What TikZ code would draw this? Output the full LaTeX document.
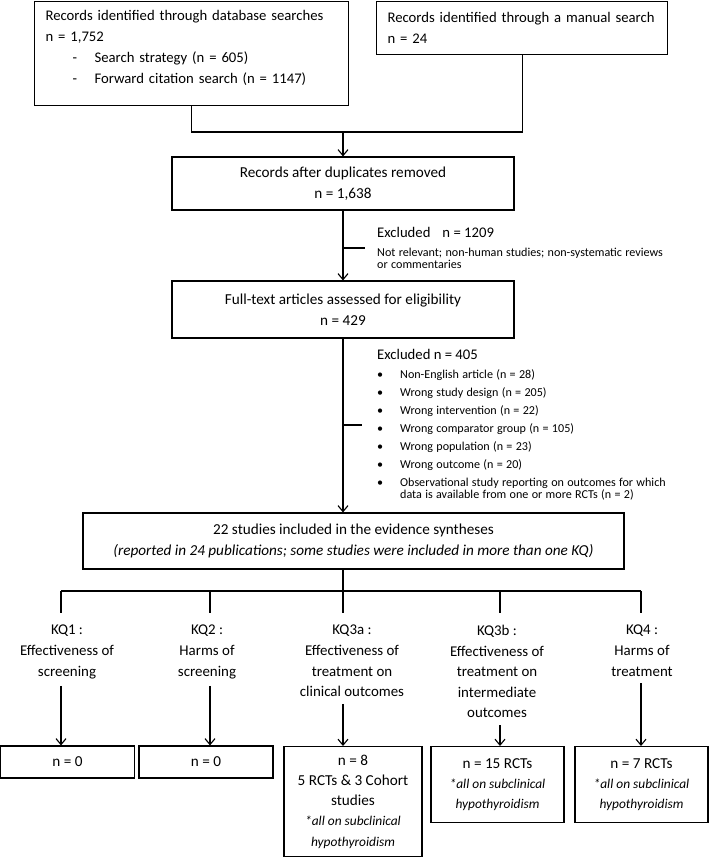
\documentclass[tikz,border=0pt]{standalone}
\usepackage{fontspec}
\setmainfont{Carlito}
\usetikzlibrary{arrows.meta}
\newcommand{\toptxt}{\fontsize{14.7}{21}\selectfont}
\newcommand{\bigtxt}{\fontsize{15.2}{21.5}\selectfont}
\newcommand{\smalltxt}{\fontsize{12.1}{18}\selectfont}
\newcommand{\kqtxt}{\fontsize{14.9}{20.6}\selectfont}
\newcommand{\restxt}{\fontsize{15.2}{20.2}\selectfont}
\newcommand{\subtxt}{\fontsize{13.4}{20.2}\selectfont\itshape}
\newcommand{\dashitem}[1]{\hspace*{27pt}\makebox[22pt][l]{-}#1}
\newcommand{\dotitem}[1]{\makebox[23pt][l]{\textbullet}#1}
\tikzset{
  box/.style={draw, line width=1.1pt, inner sep=0pt, align=center},
  link/.style={line width=1.1pt},
  arr/.style={line width=1.1pt, -{Straight Barb[length=6pt,width=10pt]}},
  note/.style={inner sep=0pt, align=left, anchor=west},
  kq/.style={inner sep=0pt, align=center, anchor=north, font=\kqtxt},
}

\begin{document}
\begin{tikzpicture}[x=1pt, y=-1pt]
  \useasboundingbox (0,0) rectangle (709,857);
  % identification
  \node[box, anchor=north west, minimum width=314pt, minimum height=104pt,
        text width=292pt, align=left, font=\toptxt] (db) at (34,0.7)
       {Records identified through database searches\\
        n = 1,752\\
        \dashitem{Search strategy (n = 605)}\\
        \dashitem{Forward citation search (n = 1147)}\\[-9pt]\mbox{}};
  \node[box, anchor=north west, minimum width=291pt, minimum height=53pt,
        text width=269pt, align=left, font=\toptxt] (manual) at (376,0.7)
       {Records identified through a manual search\\
        n = 24};
  \coordinate (join) at (343,132);
  \draw[link] (db.south) |- (join) -| (manual.south);
  % screening
  \node[box, minimum width=342pt, minimum height=53pt, font=\bigtxt] (dup) at (343,183.5)
       {Records after duplicates removed\\ n = 1,638};
  \draw[arr] (join) -- (dup.north);
  \node[box, minimum width=342pt, minimum height=57pt, font=\bigtxt] (full) at (343,309.5)
       {Full-text articles assessed for eligibility\\ n = 429};
  \draw[arr] (dup.south) -- (full.north);
  \node[note, text width=320pt] (ex1) at (377,248)
       {\toptxt Excluded\hspace{12pt}n = 1209\\[1pt]
        \smalltxt Not relevant; non-human studies; non-systematic reviews\\
        or commentaries};
  \draw[link] (dup.south |- ex1.west) -- ([xshift=-12pt]ex1.west);
  % eligibility
  \node[box, minimum width=541pt, minimum height=56pt, font=\bigtxt] (incl) at (353.5,541)
       {22 studies included in the evidence syntheses\\
        \textit{(reported in 24 publications; some studies were included in more than one KQ)}};
  \draw[arr] (full.south) -- (full.south |- incl.north);
  \node[note, text width=320pt] (ex2) at (377,425)
       {\toptxt Excluded n = 405\\[1pt]
        \smalltxt
        \dotitem{Non-English article (n = 28)}\\
        \dotitem{Wrong study design (n = 205)}\\
        \dotitem{Wrong intervention (n = 22)}\\
        \dotitem{Wrong comparator group (n = 105)}\\
        \dotitem{Wrong population (n = 23)}\\
        \dotitem{Wrong outcome (n = 20)}\\
        \dotitem{Observational study reporting on outcomes for which}\\
        \hspace*{23pt}data is available from one or more RCTs (n = 2)};
  \draw[link] (full.south |- ex2.west) -- ([xshift=-15pt]ex2.west);
  % key questions
  \coordinate (hub) at (343,591);
  \draw[link] (full.south |- incl.south) -- (hub);
  \foreach \nm/\xx in {1/61, 2/210, 3/343, 4/500, 5/641}
    \coordinate (q\nm) at (\xx,613);
  \draw[link] (q1 |- hub) -- (q5 |- hub);
  \foreach \nm in {1,...,5}
    \draw[link] (q\nm |- hub) -- (q\nm);
  \node[kq] (kq1) at (67,625) {KQ1 :\\ Effectiveness of\\ screening};
  \node[kq] (kq2) at (207,625) {KQ2 :\\ Harms of\\ screening};
  \node[kq] (kq3) at (352,625) {KQ3a :\\ Effectiveness of\\ treatment on\\ clinical outcomes};
  \node[kq] (kq4) at (497,625) {KQ3b :\\ Effectiveness of\\ treatment on\\ intermediate\\ outcomes};
  \node[kq] (kq5) at (642,625) {KQ4 :\\ Harms of\\ treatment};
  % results
  \node[box, minimum width=134pt, minimum height=32pt, font=\restxt] (r1) at (67.5,762) {n = 0};
  \node[box, minimum width=134pt, minimum height=32pt, font=\restxt] (r2) at (206,762) {n = 0};
  \node[box, anchor=north, minimum width=138pt, minimum height=110pt, font=\restxt] (r3) at (353,746)
       {n = 8\\ 5 RCTs \& 3 Cohort\\ studies\\
        {\subtxt *all on subclinical}\\
        {\subtxt hypothyroidism}};
  \node[box, anchor=north, minimum width=133pt, minimum height=76pt, font=\restxt] (r4) at (497.5,746)
       {n = 15 RCTs\\
        {\subtxt *all on subclinical}\\
        {\subtxt hypothyroidism}};
  \node[box, anchor=north, minimum width=133pt, minimum height=76pt, font=\restxt] (r5) at (641.5,746)
       {n = 7 RCTs\\
        {\subtxt *all on subclinical}\\
        {\subtxt hypothyroidism}};
  \foreach \nm in {1,...,5}
    \draw[arr, shorten <=7pt] (kq\nm.south -| q\nm) -- (q\nm |- r\nm.north);
\end{tikzpicture}
\end{document}
